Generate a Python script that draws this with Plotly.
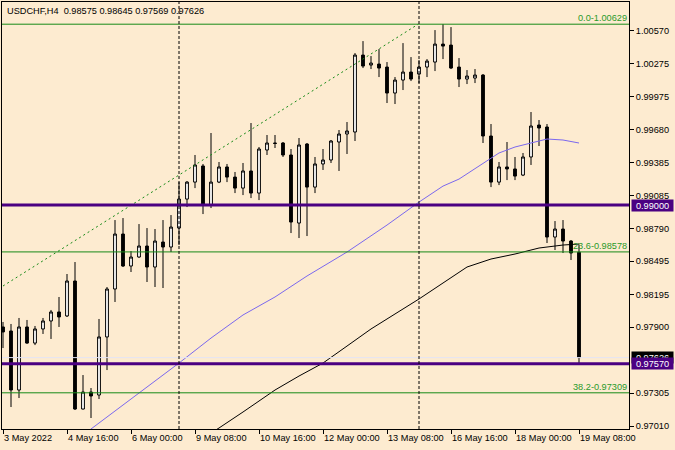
import plotly.graph_objects as go

# ---------------- data ----------------
bars = list(range(73))
opens = [0.97902, 0.97866, 0.97334, 0.97902, 0.97757, 0.97884, 0.97956, 0.98037, 0.98001, 0.98316,
         0.97163, 0.97316, 0.97289, 0.97812, 0.98244, 0.98739, 0.98451, 0.98532, 0.98631, 0.98442,
         0.98667, 0.98622, 0.98793, 0.99054, 0.99207, 0.99352, 0.99000, 0.99207, 0.99343, 0.99252,
         0.99153, 0.99307, 0.99108, 0.99496, 0.99559, 0.99559, 0.99451, 0.98838, 0.99550, 0.99162,
         0.99370, 0.99406, 0.99568, 0.99640, 0.99658, 1.00351, 1.00261, 1.00270, 1.00243, 1.00009,
         1.00126, 1.00198, 1.00180, 1.00243, 1.00288, 1.00450, 1.00441, 1.00243, 1.00135, 1.00144,
         1.00171, 0.99622, 0.99207, 0.99343, 0.99325, 0.99270, 0.99433, 0.99721, 0.99703, 0.98712,
         0.98784, 0.98676, 0.98575]
highs = [0.97947, 0.97929, 0.97983, 0.97965, 0.97911, 0.97983, 0.98055, 0.98172, 0.98379, 0.98487,
         0.97469, 0.97352, 0.97974, 0.98262, 0.98865, 0.98883, 0.98586, 0.98829, 0.98793, 0.98784,
         0.98865, 0.98910, 0.99207, 0.99216, 0.99451, 0.99370, 0.99649, 0.99388, 0.99370, 0.99298,
         0.99379, 0.99739, 0.99523, 0.99631, 0.99631, 0.99568, 0.99505, 0.99604, 0.99559, 0.99433,
         0.99505, 0.99586, 0.99676, 0.99748, 1.00369, 1.00477, 1.00342, 1.00405, 1.00288, 1.00153,
         1.00459, 1.00333, 1.00306, 1.00315, 1.00576, 1.00629, 1.00603, 1.00324, 1.00216, 1.00225,
         1.00180, 0.99730, 0.99388, 0.99568, 0.99433, 0.99469, 0.99838, 0.99766, 0.99730, 0.98856,
         0.98865, 0.98685, 0.98645]
lows = [0.97712, 0.97181, 0.97262, 0.97750, 0.97739, 0.97839, 0.97794, 0.97902, 0.97992, 0.97154,
        0.97160, 0.97082, 0.97253, 0.97514, 0.98127, 0.98442, 0.98397, 0.98525, 0.98307, 0.98262,
        0.98253, 0.98577, 0.98640, 0.98982, 0.99153, 0.98919, 0.98973, 0.99198, 0.99207, 0.99108,
        0.99090, 0.99063, 0.99045, 0.99451, 0.99514, 0.99433, 0.98748, 0.98703, 0.98721, 0.99108,
        0.99316, 0.99379, 0.99307, 0.99460, 0.99577, 1.00234, 1.00225, 1.00153, 0.99919, 0.99910,
        1.00036, 1.00117, 1.00099, 1.00153, 1.00207, 1.00315, 1.00225, 1.00063, 1.00090, 1.00099,
        0.99559, 0.99162, 0.99180, 0.99225, 0.99225, 0.99261, 0.99361, 0.99532, 0.98658, 0.98595,
        0.98568, 0.98505, 0.97569]
closes = [0.97857, 0.97334, 0.97902, 0.97757, 0.97884, 0.97956, 0.98037, 0.97992, 0.98316, 0.97163,
          0.97316, 0.97280, 0.97812, 0.98244, 0.98739, 0.98451, 0.98532, 0.98631, 0.98442, 0.98676,
          0.98622, 0.98802, 0.99054, 0.99207, 0.99361, 0.99000, 0.99207, 0.99343, 0.99252, 0.99153,
          0.99307, 0.99108, 0.99505, 0.99559, 0.99555, 0.99451, 0.98847, 0.99541, 0.99162, 0.99370,
          0.99406, 0.99577, 0.99640, 0.99667, 1.00351, 1.00252, 1.00279, 1.00234, 1.00009, 1.00126,
          1.00198, 1.00135, 1.00243, 1.00297, 1.00450, 1.00432, 1.00234, 1.00135, 1.00162, 1.00171,
          0.99622, 0.99207, 0.99343, 0.99325, 0.99261, 0.99433, 0.99712, 0.99694, 0.98712, 0.98784,
          0.98676, 0.98568, 0.97626]

tick_idx = [0, 8, 16, 24, 32, 40, 48, 56, 64, 72]
tick_labels = ["3 May 2022", "4 May 16:00", "6 May 00:00", "9 May 08:00", "10 May 16:00",
               "12 May 00:00", "13 May 08:00", "16 May 16:00", "18 May 00:00", "19 May 08:00"]
price_ticks = [1.00570, 1.00275, 0.99975, 0.99680, 0.99385, 0.99085, 0.98790,
               0.98495, 0.98195, 0.97900, 0.97305, 0.97010]

ma_fast_idx = [10, 11, 14, 17, 22, 26, 30, 34, 38, 43, 48, 52, 55, 57, 60, 62, 64, 66, 68, 70, 72]
ma_fast = [0.96920, 0.96983, 0.97145, 0.97307, 0.97577, 0.97802, 0.98010, 0.98172, 0.98361, 0.98577,
           0.98820, 0.99027, 0.99171, 0.99234, 0.99379, 0.99469, 0.99523, 0.99559, 0.99595, 0.99586,
           0.99559]
ma_slow_idx = [26, 27, 30, 34, 37, 40, 43, 46, 49, 52, 55, 58, 61, 64, 67, 70, 72]
ma_slow = [0.96947, 0.96992, 0.97136, 0.97334, 0.97460, 0.97577, 0.97730, 0.97884, 0.98019, 0.98154,
           0.98298, 0.98442, 0.98514, 0.98559, 0.98613, 0.98640, 0.98649]

fib_levels = [1.00629, 0.98578, 0.97309]
fib_labels = ["0.0-1.00629", "23.6-0.98578", "38.2-0.97309"]
fib_trend_idx = [0, 51.9]
fib_trend_val = [0.98271, 1.00629]
h_levels = [0.99000, 0.97570]
bid_price = 0.97626
separators = [22, 52]
symbol = "USDCHF,H4"

# ---------------- style ----------------
BG = "#FDEBD0"
PURPLE = "#4B0082"
GREEN = "#178A17"
GREEN_TXT = "#2A9A2A"
FONT = "Liberation Sans"
FS = 9.2

fig = go.Figure()

fig.add_trace(go.Candlestick(
    x=bars, open=opens, high=highs, low=lows, close=closes,
    increasing=dict(line=dict(color="black", width=1), fillcolor="white"),
    decreasing=dict(line=dict(color="black", width=1), fillcolor="black"),
    whiskerwidth=0, hoverinfo="skip", name="USDCHF"))

fig.add_trace(go.Scatter(x=ma_fast_idx, y=ma_fast, mode="lines",
                         line=dict(color="#7B68EE", width=1), hoverinfo="skip"))
fig.add_trace(go.Scatter(x=ma_slow_idx, y=ma_slow, mode="lines",
                         line=dict(color="black", width=1), hoverinfo="skip"))
fig.add_trace(go.Scatter(x=fib_trend_idx, y=fib_trend_val, mode="lines",
                         line=dict(color=GREEN, width=1, dash="2px,3px"), hoverinfo="skip"))

# bid line
fig.add_shape(type="line", xref="paper", x0=0, x1=1, yref="y", y0=bid_price, y1=bid_price,
              line=dict(color="#E4E4F4", width=1))
# fib levels
for lv in fib_levels:
    fig.add_shape(type="line", xref="paper", x0=0, x1=1, yref="y", y0=lv, y1=lv,
                  line=dict(color=GREEN, width=1))
# horizontal levels
for lv in h_levels:
    fig.add_shape(type="line", xref="paper", x0=0, x1=1, yref="y", y0=lv, y1=lv,
                  line=dict(color=PURPLE, width=3))
# period separators
for s in separators:
    fig.add_shape(type="line", xref="x", x0=s, x1=s, yref="paper", y0=0, y1=1,
                  line=dict(color="black", width=1, dash="3px,2px"))

# fib labels
for lv, txt in zip(fib_levels, fib_labels):
    fig.add_annotation(x=1, xref="paper", xanchor="right", xshift=-1, y=lv, yref="y",
                       yanchor="bottom", text=txt, showarrow=False, borderpad=0,
                       font=dict(family=FONT, size=FS, color=GREEN_TXT))

# price labels on axis
def price_label(val, bg):
    fig.add_annotation(x=1, xref="paper", xanchor="left", xshift=2, y=val, yref="y",
                       yanchor="middle", text=f"{val:.5f}", showarrow=False,
                       bgcolor=bg, width=41, height=11, borderpad=0,
                       font=dict(family=FONT, size=FS, color="white"))

price_label(h_levels[0], PURPLE)
price_label(bid_price, "black")
price_label(h_levels[1], PURPLE)

# title
title = f"{symbol}\u00a0 {opens[-1]:.5f} {highs[-1]:.5f} {lows[-1]:.5f} {closes[-1]:.5f}"
fig.add_annotation(x=0, xref="paper", xanchor="left", xshift=4, y=1, yref="paper",
                   yanchor="top", yshift=-3, text=title, showarrow=False, borderpad=0,
                   font=dict(family=FONT, size=FS, color="black"))

fig.update_layout(width=675, height=450, margin=dict(l=2, r=46, t=2, b=21),
                  paper_bgcolor=BG, plot_bgcolor=BG, showlegend=False, boxgap=0.5,
                  font=dict(family=FONT, size=FS, color="black"))
fig.update_xaxes(range=[-0.125, 78.25], tickvals=tick_idx, ticktext=tick_labels,
                 ticks="outside", ticklen=4, tickcolor="black", showgrid=False, zeroline=False,
                 showline=True, linecolor="black", linewidth=1, mirror=True,
                 rangeslider_visible=False, ticklabelposition="outside right", tickangle=0,
                 tickfont=dict(family=FONT, size=FS, color="black"))
fig.update_yaxes(range=[0.96983, 1.00829], side="right", tickvals=price_ticks,
                 ticktext=[f"{v:.5f}" for v in price_ticks], ticks="outside", ticklen=4,
                 tickcolor="black", showgrid=False, zeroline=False, showline=True,
                 linecolor="black", linewidth=1, mirror=True,
                 tickfont=dict(family=FONT, size=FS, color="black"))

fig.write_html("out.html", config={"displayModeBar": False},
               post_script="document.body.style.margin='0';document.body.style.overflow='hidden';")
